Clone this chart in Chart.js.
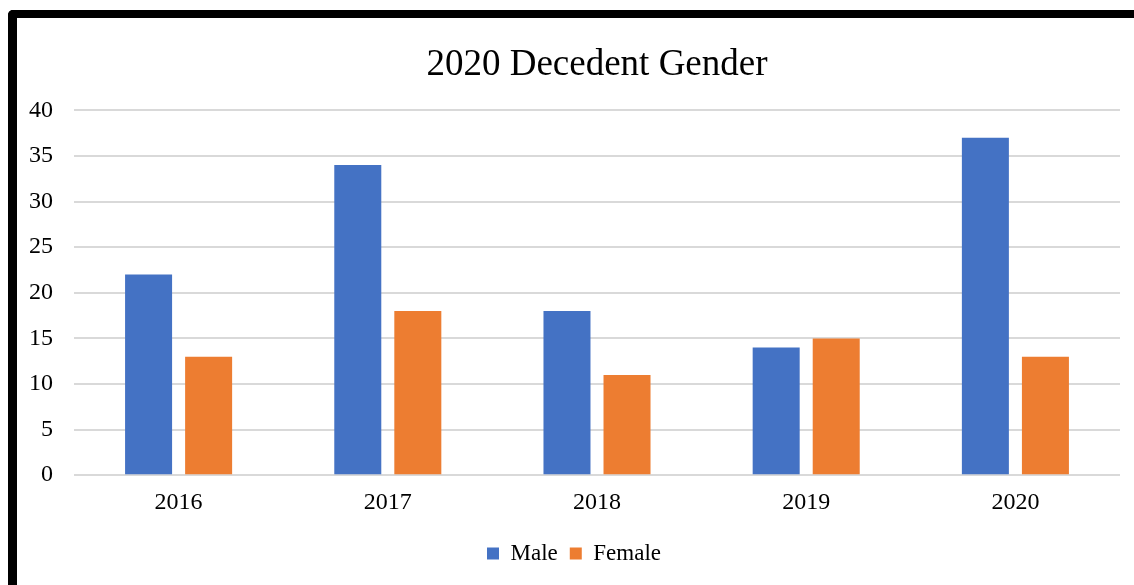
<!DOCTYPE html>
<html lang="en">
<head>
    <meta charset="UTF-8">
    <title>2020 Decedent Gender</title>
    <script src="https://cdn.jsdelivr.net/npm/chart.js"></script>
    <style>
        html, body { margin: 0; padding: 0; background: #fff; overflow: hidden; }
        .frame {
            position: absolute;
            left: 8px;
            top: 10px;
            width: 1200px;
            height: 700px;
            border-left: 9px solid #000;
            border-top: 8px solid #000;
            border-top-left-radius: 5px;
        }
        #myChart { position: absolute; left: 0; top: 0; }
    </style>
</head>
<body>
    <div class="frame"></div>
    <canvas id="myChart" width="1134" height="585"></canvas>

<script>
    // dados
    const categories = ['2016', '2017', '2018', '2019', '2020'];
    const maleCounts = [22, 34, 18, 14, 37];
    const femaleCounts = [13, 18, 11, 15, 13];
    const yMin = 0;
    const yMax = 40;
    const yStep = 5;

    const serif = "'Liberation Serif', 'Times New Roman', serif";
    const ctx = document.getElementById('myChart');

    new Chart(ctx, {
        type: 'bar',
        data: {
            labels: categories,
            datasets: [
                {
                    label: 'Male',
                    data: maleCounts,
                    backgroundColor: '#4472C4'
                },
                {
                    label: 'Female',
                    data: femaleCounts,
                    backgroundColor: '#ED7D31'
                }
            ]
        },
        options: {
            responsive: false,
            animation: false,
            datasets: {
                bar: {
                    categoryPercentage: 0.574,
                    barPercentage: 0.783
                }
            },
            layout: {
                padding: { left: 28, right: 14, top: 0, bottom: 10 }
            },
            plugins: {
                title: {
                    display: true,
                    fullSize: false, // centraliza sobre a área do gráfico
                    text: '2020 Decedent Gender',
                    color: '#000',
                    font: { family: serif, size: 37, weight: 'normal', lineHeight: 1.2 },
                    padding: { top: 43, bottom: 23 }
                },
                legend: {
                    position: 'bottom',
                    labels: {
                        color: '#000',
                        font: { family: serif, size: 23 },
                        boxWidth: 12,
                        boxHeight: 12,
                        padding: 12
                    }
                },
                tooltip: { enabled: false }
            },
            scales: {
                x: {
                    grid: { display: false, drawTicks: false },
                    border: { display: false },
                    ticks: {
                        color: '#000',
                        font: { family: serif, size: 24 },
                        padding: 13
                    }
                },
                y: {
                    min: yMin,
                    max: yMax,
                    afterFit: function (axis) { axis.width = 46; },
                    grid: { color: '#d9d9d9', lineWidth: 2, drawTicks: false },
                    border: { display: false },
                    ticks: {
                        stepSize: yStep,
                        color: '#000',
                        font: { family: serif, size: 24 },
                        padding: 21
                    }
                }
            }
        }
    });
</script>
</body>
</html>
